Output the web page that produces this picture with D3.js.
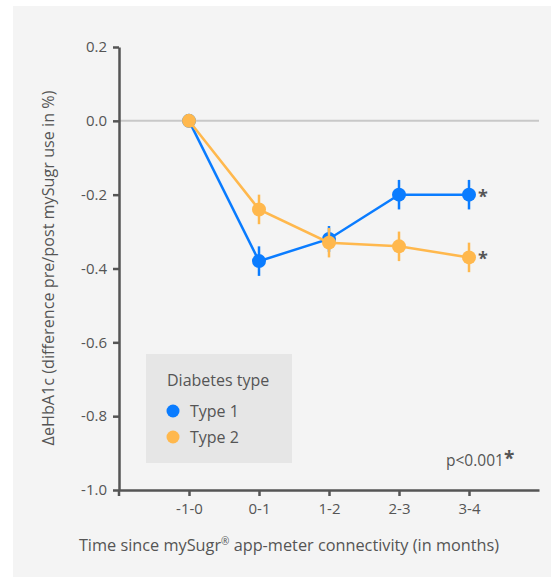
<!DOCTYPE html>
<html>
<head>
<meta charset="utf-8">
<script src="https://cdn.jsdelivr.net/npm/d3@7"></script>
<style>
  body { margin: 0; background: #fff; }
  text { font-family: "Open Sans", "Noto Sans", sans-serif; fill: #555; }
</style>
</head>
<body>
<div id="chart"></div>
<script>
var categories = ["-1-0", "0-1", "1-2", "2-3", "3-4"];
var type1 = [0, -0.38, -0.32, -0.20, -0.20];
var type1Err = [0, 0.04, 0.035, 0.04, 0.04];
var type2 = [0, -0.24, -0.33, -0.34, -0.37];
var type2Err = [0, 0.04, 0.04, 0.04, 0.04];
var yTicks = [0.2, 0.0, -0.2, -0.4, -0.6, -0.8, -1.0];

var W = 551, H = 577;
var colors = { t1: "#0a7cff", t2: "#ffb84d" };

var svg = d3.select("#chart").append("svg")
    .attr("width", W)
    .attr("height", H);

svg.append("rect")
    .attr("x", 13).attr("y", 6)
    .attr("width", W - 13).attr("height", H - 6)
    .attr("fill", "#f4f4f4");

// point scale with a blank slot on each side
var x = d3.scalePoint()
    .domain(["", ...categories, " "])
    .range([119, 539]);

var y = d3.scaleLinear()
    .domain([-1.0, 0.2])
    .range([490, 47]);

// zero line
svg.append("line")
    .attr("x1", 119).attr("x2", 539)
    .attr("y1", y(0)).attr("y2", y(0))
    .attr("stroke", "#c8c8c8")
    .attr("stroke-width", 2);

// y axis
var yAxis = svg.append("g")
    .attr("transform", "translate(119,0)")
    .call(d3.axisLeft(y).tickValues(yTicks).tickSize(6).tickSizeOuter(0));
yAxis.select(".domain").attr("stroke", "#555").attr("stroke-width", 2.5);
yAxis.selectAll(".tick line").attr("stroke", "#555").attr("stroke-width", 2.5);
yAxis.selectAll(".tick text").attr("font-size", 15).attr("x", -12).style("fill", "#555")
    .text(function(d) { return d3.format(".1f")(d).replace("−", "-"); });

// x axis
var xAxis = svg.append("g")
    .attr("transform", "translate(0,490)")
    .call(d3.axisBottom(x).tickValues(categories).tickSize(6).tickSizeOuter(0));
xAxis.select(".domain").attr("stroke", "#555").attr("stroke-width", 2.5);
xAxis.selectAll(".tick line").attr("stroke", "#555").attr("stroke-width", 2.5);
xAxis.selectAll(".tick text").attr("font-size", 15).attr("y", 13).style("fill", "#555");
// tick at axis origin
xAxis.append("line")
    .attr("x1", 119).attr("x2", 119).attr("y1", 0).attr("y2", 6)
    .attr("stroke", "#555").attr("stroke-width", 2.5);

// axis titles
svg.append("text")
    .attr("x", 289).attr("y", 551)
    .attr("text-anchor", "middle")
    .attr("font-size", 16.3)
    .html("Time since mySugr<tspan font-size='10' dy='-6'>®</tspan><tspan dy='6'> app-meter connectivity (in months)</tspan>");

svg.append("text")
    .attr("transform", "translate(54,268) rotate(-90)")
    .attr("text-anchor", "middle")
    .attr("font-size", 16.2)
    .text("ΔeHbA1c (difference pre/post mySugr use in %)");

var line = d3.line()
    .x(function(d, i) { return x(categories[i]); })
    .y(function(d) { return y(d); });

function drawSeries(vals, err, color) {
  var pts = vals.map(function(v, i) { return { cat: categories[i], v: v, e: err[i] }; });
  var g = svg.append("g");
  g.append("path")
      .datum(vals)
      .attr("d", line)
      .attr("fill", "none")
      .attr("stroke", color)
      .attr("stroke-width", 2.5);
  g.selectAll(".err")
      .data(pts.filter(function(p) { return p.e > 0; }))
    .enter().append("line")
      .attr("x1", function(p) { return x(p.cat); })
      .attr("x2", function(p) { return x(p.cat); })
      .attr("y1", function(p) { return y(p.v + p.e); })
      .attr("y2", function(p) { return y(p.v - p.e); })
      .attr("stroke", color)
      .attr("stroke-width", 2.5);
  g.selectAll(".dot")
      .data(pts)
    .enter().append("circle")
      .attr("cx", function(p) { return x(p.cat); })
      .attr("cy", function(p) { return y(p.v); })
      .attr("r", 7)
      .attr("fill", color);
}
drawSeries(type1, type1Err, colors.t1);
drawSeries(type2, type2Err, colors.t2);

// significance stars
[type1, type2].forEach(function(v) {
  svg.append("text")
      .attr("x", x(categories[4]) + 9)
      .attr("y", y(v[4]) + 8)
      .attr("font-size", 18)
      .attr("font-weight", "bold")
      .text("*");
});

// p value
svg.append("text")
    .attr("x", 446).attr("y", 466)
    .attr("font-size", 15.5)
    .html("p&lt;0.001<tspan font-size='19' font-weight='bold' dy='-1'>*</tspan>");

// legend
var legend = svg.append("g");
legend.append("rect")
    .attr("x", 146).attr("y", 354)
    .attr("width", 146).attr("height", 109)
    .attr("fill", "#e6e6e6");
legend.append("text")
    .attr("x", 167).attr("y", 386)
    .attr("font-size", 16)
    .text("Diabetes type");
[["Type 1", colors.t1], ["Type 2", colors.t2]].forEach(function(d, i) {
  legend.append("circle")
      .attr("cx", 173).attr("cy", 411 + i * 26)
      .attr("r", 6.5)
      .attr("fill", d[1]);
  legend.append("text")
      .attr("x", 190).attr("y", 417 + i * 26)
      .attr("font-size", 16)
      .text(d[0]);
});
</script>
</body>
</html>
